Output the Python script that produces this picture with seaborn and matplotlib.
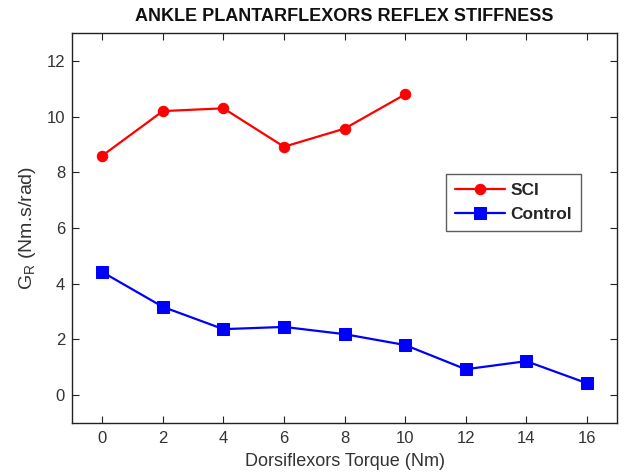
import matplotlib
matplotlib.use("Agg")
import matplotlib.pyplot as plt
import seaborn as sns
import pandas as pd

sci_x = [0, 2, 4, 6, 8, 10]
sci_y = [8.6, 10.2, 10.3, 8.92, 9.57, 10.8]
ctrl_x = [0, 2, 4, 6, 8, 10, 12, 14, 16]
ctrl_y = [4.42, 3.17, 2.37, 2.45, 2.19, 1.8, 0.93, 1.22, 0.43]
xticks = [0, 2, 4, 6, 8, 10, 12, 14, 16]
yticks = [0, 2, 4, 6, 8, 10, 12]

sns.set_style("ticks")
plt.rcParams['font.family'] = ['Liberation Sans', 'DejaVu Sans']

fig = plt.figure(figsize=(6.24, 4.73), dpi=100)
ax = fig.add_axes([0.1154, 0.1057, 0.8736, 0.8243])

df_sci = pd.DataFrame({"x": sci_x, "y": sci_y})
df_ctrl = pd.DataFrame({"x": ctrl_x, "y": ctrl_y})

sns.lineplot(data=df_sci, x="x", y="y", ax=ax, color="#ff0000", marker="o",
             markersize=7.5, markeredgecolor="#ff0000", linewidth=1.6, label="SCI")
sns.lineplot(data=df_ctrl, x="x", y="y", ax=ax, color="#0000ff", marker="s",
             markersize=8, markeredgecolor="#0000ff", linewidth=1.6, label="Control")

ax.set_xlim(-1, 17)
ax.set_ylim(-1, 13)
ax.set_xticks(xticks)
ax.set_yticks(yticks)
ax.tick_params(direction="in", top=True, right=True, length=5, width=0.8,
               labelsize=12, colors="#222222", labelcolor="#333333")
ax.tick_params(axis="x", pad=6)
ax.tick_params(axis="y", pad=5)
for s in ax.spines.values():
    s.set_visible(True)
    s.set_linewidth(1.0)
    s.set_color("#222222")

ax.set_xlabel("Dorsiflexors Torque (Nm)", fontsize=13, color="#333333", labelpad=5)
ax.set_ylabel(r"G$_\mathregular{R}$ (Nm.s/rad)", fontsize=14, color="#333333", labelpad=6)
ax.set_title("ANKLE PLANTARFLEXORS REFLEX STIFFNESS", fontsize=13, fontweight="bold",
             color="#111111", pad=9)

leg = ax.legend(loc="upper left", bbox_to_anchor=(0.686, 0.638), borderaxespad=0,
                frameon=True, fancybox=False, edgecolor="#333333",
                prop={"weight": "bold", "size": 12.5}, handlelength=2.9,
                handletextpad=0.3, borderpad=0.5, labelspacing=0.5)
leg.get_frame().set_linewidth(1.0)

fig.savefig("out.png", dpi=100)
